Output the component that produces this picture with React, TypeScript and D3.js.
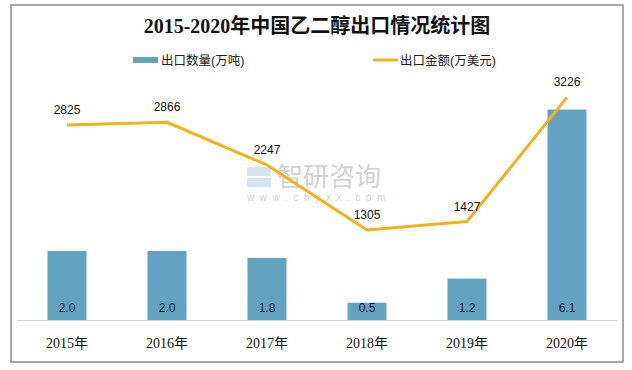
import React from 'react';
import * as d3 from 'd3';

const years = ['2015年', '2016年', '2017年', '2018年', '2019年', '2020年'];
const volume = [2.0, 2.0, 1.8, 0.5, 1.2, 6.1]; // 万吨
const amount = [2825, 2866, 2247, 1305, 1427, 3226]; // 万美元

const W = 632;
const H = 370;
const barColor = '#62a3c2';
const lineColor = '#f2b21f';
const sans = '"Liberation Sans", "Noto Sans CJK SC", sans-serif';
const serif = '"Liberation Serif", "Noto Sans CJK SC", serif';

const App = () => {
    const x = d3.scaleBand().domain(years).range([17, 617]).paddingInner(0.61).paddingOuter(0.305);
    const yBar = d3.scaleLinear().domain([0, 8]).range([320, 44]);
    const yLine = d3.scaleLinear().domain([0, 4000]).range([320, 44]);
    const cx = (d: string) => (x(d) as number) + x.bandwidth() / 2;

    const line = d3
        .line<number>()
        .x((_, i) => cx(years[i]))
        .y(d => yLine(d));

    return (
        <svg width={W} height={H} style={{ position: 'absolute', left: 0, top: 0 }}>
            <rect x={0} y={0} width={W} height={H} fill="#fff" />
            <rect x={11} y={5} width={612} height={357} fill="#fff" stroke="#8c8c8c" strokeWidth={1.5} />

            <text x={317} y={33} textAnchor="middle" fontFamily={serif} fontWeight="bold" fontSize={20} fill="#111">
                2015-2020年中国乙二醇出口情况统计图
            </text>

            {/* legend */}
            <rect x={133} y={57} width={25} height={6} fill={barColor} />
            <text x={161} y={65} fontFamily={sans} fontSize={12.5} fill="#222">出口数量(万吨)</text>
            <line x1={373} x2={398} y1={60} y2={60} stroke={lineColor} strokeWidth={3} />
            <text x={400} y={65} fontFamily={sans} fontSize={12.5} fill="#222">出口金额(万美元)</text>

            {/* watermark */}
            <g opacity={0.6}>
                <rect x={247} y={167} width={24} height={9} fill="#c3d3e6" />
                <rect x={247} y={178} width={24} height={9} fill="#c3d3e6" />
                <text x={277} y={186} fontFamily={sans} fontSize={26} fill="#b5b5b5">智研咨询</text>
                <text x={247} y={201} fontFamily={sans} fontSize={10} fill="#b5b5b5" letterSpacing={5.6}>www.chyxx.com</text>
            </g>

            {/* axis baseline */}
            <line x1={17} x2={617} y1={320.5} y2={320.5} stroke="#d6d6d6" strokeWidth={1} />

            {years.map((d, i) => (
                <g key={d}>
                    <rect
                        x={x(d)}
                        y={yBar(volume[i])}
                        width={x.bandwidth()}
                        height={yBar(0) - yBar(volume[i])}
                        fill={barColor}
                    />
                    <text x={cx(d)} y={312} textAnchor="middle" fontFamily={sans} fontSize={12} fill="#1a1a1a">
                        {volume[i].toFixed(1)}
                    </text>
                    <text x={cx(d)} y={348} textAnchor="middle" fontFamily={serif} fontSize={14} fill="#111">
                        {d}
                    </text>
                </g>
            ))}

            <path d={line(amount) || ''} fill="none" stroke={lineColor} strokeWidth={3} strokeLinejoin="round" />

            {years.map((d, i) => (
                <text
                    key={'l' + d}
                    x={cx(d)}
                    y={yLine(amount[i]) - 11}
                    textAnchor="middle"
                    fontFamily={sans}
                    fontSize={12}
                    fill="#111"
                >
                    {amount[i]}
                </text>
            ))}
        </svg>
    );
};

export default App;
